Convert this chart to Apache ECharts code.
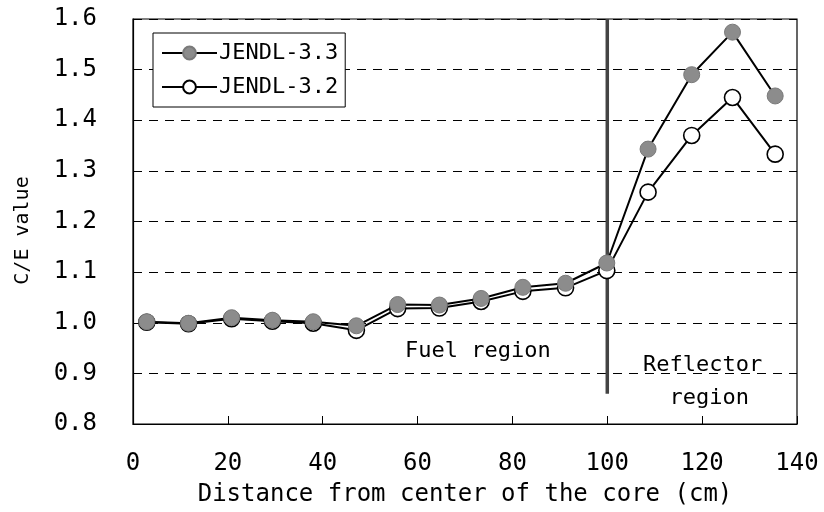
<!DOCTYPE html>
<html><head><meta charset="utf-8">
<script src="https://cdn.jsdelivr.net/npm/echarts@6/dist/echarts.min.js"></script>
<style>html,body{margin:0;padding:0;background:#fff}#c{width:824px;height:512px}</style>
</head><body><div id="c"></div>
<script>
var distance = [2.9, 11.7, 20.8, 29.4, 38.0, 47.1, 55.8, 64.6, 73.4, 82.2, 91.2, 99.9, 108.6, 117.8, 126.4, 135.4];
var jendl33 = [1.002, 0.999, 1.010, 1.005, 1.002, 0.994, 1.036, 1.035, 1.048, 1.070, 1.078, 1.118, 1.343, 1.490, 1.574, 1.448];
var jendl32 = [1.001, 0.998, 1.008, 1.003, 0.999, 0.985, 1.028, 1.029, 1.042, 1.062, 1.069, 1.103, 1.258, 1.370, 1.445, 1.333];
var xTicks = [0, 20, 40, 60, 80, 100, 120, 140];
var yTicks = [0.8, 0.9, 1.0, 1.1, 1.2, 1.3, 1.4, 1.5, 1.6];
var boundaryX = [100, 100];
var boundaryY = [0.86, 1.6];

function pairs(xs, ys){ return xs.map(function(x,i){return [x, ys[i]];}); }
var FONT = '"DejaVu Sans Mono", "Liberation Mono", monospace';
var chart = echarts.init(document.getElementById('c'));
chart.setOption({
  animation: false,
  backgroundColor: '#fff',
  grid: {left: 133, right: 27, top: 19, bottom: 85, show: true, borderColor: '#000', borderWidth: 1.2, backgroundColor: 'transparent'},
  legend: {
    data: ['JENDL-3.3', 'JENDL-3.2'],
    orient: 'vertical', left: 153, top: 33,
    backgroundColor: '#fff', borderColor: '#000', borderWidth: 1,
    padding: [9, 7, 9, 8], itemGap: 12, itemWidth: 55, itemHeight: 16,
    textStyle: {fontFamily: FONT, fontSize: 22, color: '#000', padding: [0,0,0,-3]}
  },
  xAxis: {
    type: 'value', min: xTicks[0], max: xTicks[xTicks.length-1], interval: 20,
    name: 'Distance from center of the core (cm)', nameLocation: 'middle', nameGap: 59,
    nameTextStyle: {fontFamily: FONT, fontSize: 24, color: '#000'},
    axisLine: {lineStyle: {color: '#000', width: 1.2}},
    axisTick: {inside: true, length: 8, lineStyle: {color: '#000'}},
    axisLabel: {fontFamily: FONT, fontSize: 24, color: '#000', margin: 28},
    splitLine: {show: false}
  },
  yAxis: {
    type: 'value', min: yTicks[0], max: yTicks[yTicks.length-1], interval: 0.1,
    name: 'C/E value', nameLocation: 'middle', nameGap: 100,
    nameTextStyle: {fontFamily: FONT, fontSize: 20, color: '#000', padding: [0, 18, 0, 0]},
    axisLine: {lineStyle: {color: '#000', width: 1.2}},
    axisTick: {inside: true, length: 4, lineStyle: {color: '#000'}},
    axisLabel: {fontFamily: FONT, fontSize: 24, color: '#000', margin: 36,
      formatter: function(v){ return v.toFixed(1); }},
    splitLine: {show: true, lineStyle: {color: '#000', width: 1, type: [9, 7]}}
  },
  series: [
    {
      name: 'boundary', type: 'line', data: pairs(boundaryX, boundaryY),
      symbol: 'none', silent: true, z: 1,
      lineStyle: {color: '#444', width: 3.5}
    },
    {
      name: 'JENDL-3.2', type: 'line', data: pairs(distance, jendl32),
      symbol: 'circle', symbolSize: 16, z: 2,
      lineStyle: {color: '#000', width: 2},
      itemStyle: {color: '#fff', borderColor: '#000', borderWidth: 1.6}
    },
    {
      name: 'JENDL-3.3', type: 'line', data: pairs(distance, jendl33),
      symbol: 'circle', symbolSize: 16, z: 3,
      lineStyle: {color: '#000', width: 2},
      itemStyle: {color: '#8c8c8c', borderColor: '#7a7a7a', borderWidth: 1}
    }
  ],
  graphic: [
    {type: 'text', left: 405, top: 340, style: {text: 'Fuel region', fontFamily: FONT, fontSize: 22, fill: '#000'}},
    {type: 'text', left: 643, top: 349, style: {text: 'Reflector\n  region', fontFamily: FONT, fontSize: 22, lineHeight: 33, fill: '#000'}}
  ]
});
</script></body></html>
